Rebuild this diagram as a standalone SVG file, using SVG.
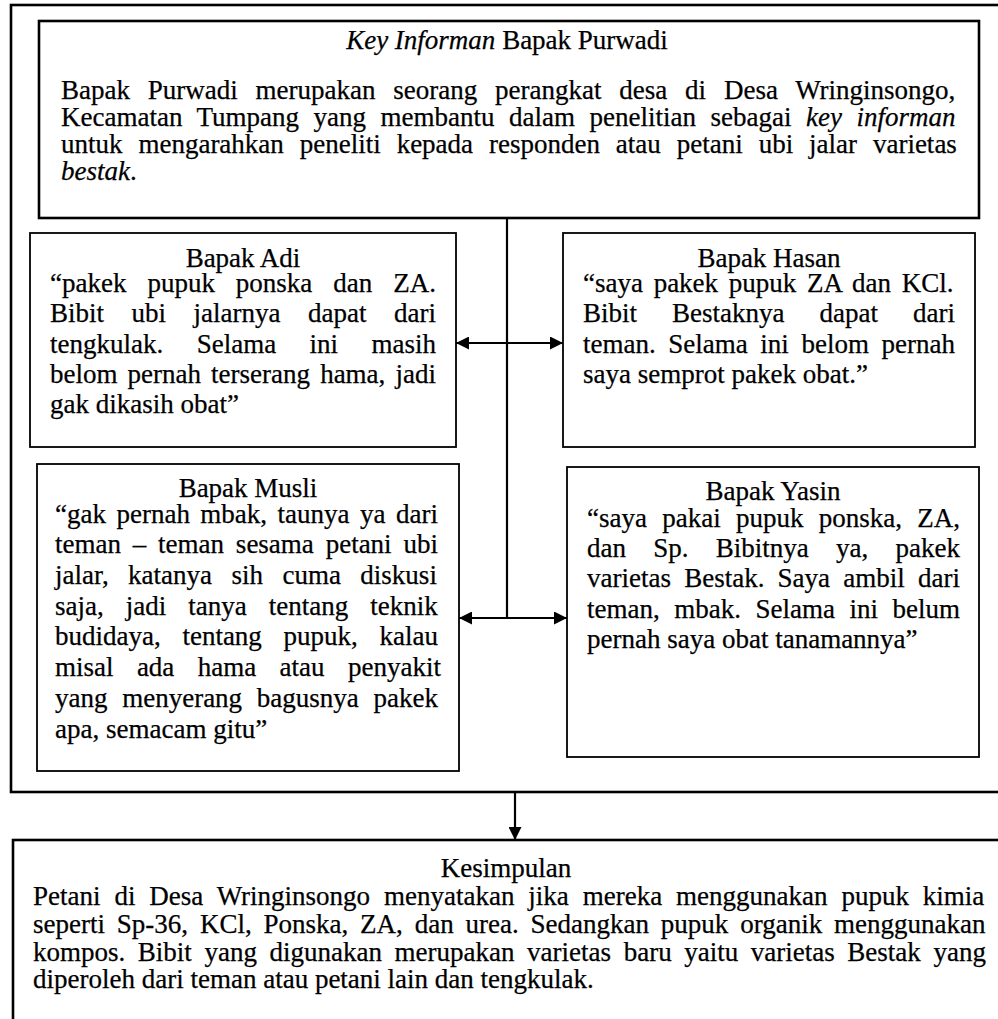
<svg xmlns="http://www.w3.org/2000/svg" width="998" height="1019" viewBox="0 0 998 1019">
  <style>
    text { font-family: "Liberation Serif", "Times New Roman", serif; font-size: 27px; fill: #000; stroke: #000; stroke-width: 0.25px; }
    .mid { text-anchor: middle; }
    .it { font-style: italic; }
    .frame { fill: none; stroke: #000; stroke-width: 2.6; }
    .box { fill: #fff; stroke: #000; stroke-width: 1.8; }
    .wire { fill: none; stroke: #000; stroke-width: 2.2; }
  </style>
  <defs>
    <marker id="head" viewBox="0 0 13 13" refX="13" refY="6.5" markerWidth="13" markerHeight="13" markerUnits="userSpaceOnUse" orient="auto-start-reverse">
      <path d="M0,0 L13,6.5 L0,13 z" fill="#000"/>
    </marker>
  </defs>

  <rect width="998" height="1019" fill="#fff"/>

  <!-- outer frame holding the informant and respondents -->
  <rect id="frame" class="frame" x="11" y="5" width="1000" height="787"/>

  <!-- connectors -->
  <g id="connectors">
    <path class="wire" d="M507,218 V618"/>
    <path class="wire" d="M456,343 H563" marker-start="url(#head)" marker-end="url(#head)"/>
    <path class="wire" d="M459,618 H567" marker-start="url(#head)" marker-end="url(#head)"/>
    <path class="wire" d="M515,792 V840" marker-end="url(#head)"/>
  </g>

  <g id="key-informan">
    <rect class="frame" x="39" y="21" width="940" height="197" fill="#fff"/>
    <text class="mid" x="507" y="49"><tspan class="it">Key Informan</tspan> Bapak Purwadi</text>
    <text x="61" y="99" style="word-spacing:11.05px">Bapak Purwadi merupakan seorang perangkat desa di Desa Wringinsongo,</text>
    <text x="61" y="126" style="word-spacing:7.77px">Kecamatan Tumpang yang membantu dalam penelitian sebagai <tspan class="it">key informan</tspan></text>
    <text x="61" y="153" style="word-spacing:9.16px">untuk mengarahkan peneliti kepada responden atau petani ubi jalar varietas</text>
    <text x="61" y="180"><tspan class="it">bestak</tspan>.</text>
  </g>

  <g id="adi">
    <rect class="box" x="30" y="233" width="426" height="214"/>
    <text class="mid" x="243" y="267">Bapak Adi</text>
    <text x="50" y="292" style="word-spacing:14.2px">“pakek pupuk ponska dan ZA.</text>
    <text x="50" y="322" style="word-spacing:20.75px">Bibit ubi jalarnya dapat dari</text>
    <text x="50" y="353" style="word-spacing:26.67px">tengkulak. Selama ini masih</text>
    <text x="50" y="383" style="word-spacing:3.33px">belom pernah terserang hama, jadi</text>
    <text x="50" y="413">gak dikasih obat”</text>
  </g>

  <g id="hasan">
    <rect class="box" x="563" y="233" width="412" height="214"/>
    <text class="mid" x="769" y="267">Bapak Hasan</text>
    <text x="583" y="292" style="word-spacing:3.92px">“saya pakek pupuk ZA dan KCl.</text>
    <text x="583" y="322" style="word-spacing:28.3px">Bibit Bestaknya dapat dari</text>
    <text x="583" y="353" style="word-spacing:5.83px">teman. Selama ini belom pernah</text>
    <text x="583" y="383">saya semprot pakek obat.”</text>
  </g>

  <g id="musli">
    <rect class="box" x="37" y="464" width="422" height="307"/>
    <text class="mid" x="248" y="497">Bapak Musli</text>
    <text x="55" y="523" style="word-spacing:3.72px">“gak pernah mbak, taunya ya dari</text>
    <text x="55" y="553" style="word-spacing:5.06px">teman – teman sesama petani ubi</text>
    <text x="55" y="584" style="word-spacing:12.7px">jalar, katanya sih cuma diskusi</text>
    <text x="55" y="615" style="word-spacing:15.3px">saja, jadi tanya tentang teknik</text>
    <text x="55" y="645" style="word-spacing:14.93px">budidaya, tentang pupuk, kalau</text>
    <text x="55" y="676" style="word-spacing:16.64px">misal ada hama atau penyakit</text>
    <text x="55" y="707" style="word-spacing:7.94px">yang menyerang bagusnya pakek</text>
    <text x="55" y="738">apa, semacam gitu”</text>
  </g>

  <g id="yasin">
    <rect class="box" x="567" y="467" width="412" height="290"/>
    <text class="mid" x="773" y="500">Bapak Yasin</text>
    <text x="587" y="527" style="word-spacing:8.52px">“saya pakai pupuk ponska, ZA,</text>
    <text x="587" y="557" style="word-spacing:20.5px">dan Sp. Bibitnya ya, pakek</text>
    <text x="587" y="587" style="word-spacing:6.45px">varietas Bestak. Saya ambil dari</text>
    <text x="587" y="618" style="word-spacing:7.75px">teman, mbak. Selama ini belum</text>
    <text x="587" y="648">pernah saya obat tanamannya”</text>
  </g>

  <g id="kesimpulan">
    <rect class="frame" x="13" y="840" width="1000" height="200" fill="#fff"/>
    <text class="mid" x="506" y="877">Kesimpulan</text>
    <text x="33" y="905" style="word-spacing:7.15px">Petani di Desa Wringinsongo menyatakan jika mereka menggunakan pupuk kimia</text>
    <text x="33" y="933" style="word-spacing:5.09px">seperti Sp-36, KCl, Ponska, ZA, dan urea. Sedangkan pupuk organik menggunakan</text>
    <text x="33" y="961" style="word-spacing:5.84px">kompos. Bibit yang digunakan merupakan varietas baru yaitu varietas Bestak yang</text>
    <text x="33" y="988">diperoleh dari teman atau petani lain dan tengkulak.</text>
  </g>
</svg>
